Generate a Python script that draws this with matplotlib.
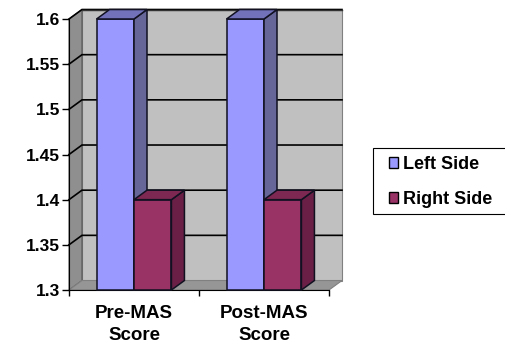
import matplotlib
matplotlib.use('Agg')
import matplotlib.pyplot as plt
from matplotlib.patches import Polygon, Patch, Rectangle

plt.rcParams['font.family'] = ['Liberation Sans', 'DejaVu Sans']

categories = ['Pre-MAS\nScore', 'Post-MAS\nScore']
left_side = [1.6, 1.6]
right_side = [1.4, 1.4]
yticks = [1.3, 1.35, 1.4, 1.45, 1.5, 1.55, 1.6]
ytick_labels = ['1.3', '1.35', '1.4', '1.45', '1.5', '1.55', '1.6']

W, H = 505, 344
fig = plt.figure(figsize=(W / 100, H / 100), dpi=100)
# front plane of the fake 3d box, in pixels: x 69-329, y 19-290
ax = fig.add_axes([69 / W, 1 - 290 / H, 260 / W, 271 / H])
ax.set_xlim(0, 2)
ax.set_ylim(1.3, 1.6)

# depth offset of the box
dx = 0.1
dy = 0.0105
bar_w = 0.288
lw = 1.1
edge = '#111122'


def poly(pts, color, z, ec='#333333', w=0.8):
    ax.add_patch(Polygon(pts, closed=True, facecolor=color, edgecolor=ec,
                         linewidth=w, clip_on=False, zorder=z))


def bar3d(x, val, front, side, top, z):
    poly([(x, 1.3), (x + bar_w, 1.3), (x + bar_w, val), (x, val)], front, z, edge, lw)
    poly([(x + bar_w, 1.3), (x + bar_w + dx, 1.3 + dy), (x + bar_w + dx, val + dy),
          (x + bar_w, val)], side, z, edge, lw)
    poly([(x, val), (x + bar_w, val), (x + bar_w + dx, val + dy), (x + dx, val + dy)],
         top, z, edge, lw)


# walls and floor
poly([(dx, 1.3 + dy), (2 + dx, 1.3 + dy), (2 + dx, 1.6 + dy), (dx, 1.6 + dy)], '#c0c0c0', 1, '#808080')
poly([(0, 1.3), (dx, 1.3 + dy), (dx, 1.6 + dy), (0, 1.6)], '#8f8f8f', 1, '#555555')
poly([(0, 1.3), (2, 1.3), (2 + dx, 1.3 + dy), (dx, 1.3 + dy)], '#969696', 1, '#808080')

# gridlines on both walls
for t in yticks[1:]:
    ax.plot([0, dx, 2 + dx], [t, t + dy, t + dy], color='black', lw=1.2,
            clip_on=False, zorder=2, solid_joinstyle='miter')
ax.plot([dx, 2 + dx], [1.6 + dy, 1.6 + dy], color='#333333', lw=1.0, clip_on=False, zorder=2)

for i in range(len(categories)):
    bar3d(i + 0.5 - bar_w, left_side[i], '#9999ff', '#666699', '#7272bb', 3 + i)
    bar3d(i + 0.5, right_side[i], '#993366', '#6a2046', '#7c2852', 3 + i)

ax.set_yticks(yticks)
ax.set_yticklabels(ytick_labels, fontsize=12.5, fontweight='bold')
ax.set_xticks([0, 1, 2])
ax.set_xticklabels([])
ax.set_xticks([0.5, 1.5], minor=True)
ax.set_xticklabels(categories, minor=True, fontsize=13.5, fontweight='bold', linespacing=1.35)
ax.tick_params(axis='x', which='minor', length=0, pad=11)
ax.tick_params(axis='y', which='major', length=5, width=1, pad=1.5)
ax.tick_params(axis='x', which='major', length=4, width=1)
for s in ['top', 'right']:
    ax.spines[s].set_visible(False)
ax.spines['left'].set_zorder(2.5)
ax.spines['bottom'].set_zorder(2.5)

# legend box drawn apart so its side padding and row spacing can differ
# it runs off the right edge of the picture like in the original
fig.add_artist(Rectangle((373 / W, 1 - 214 / H), 136 / W, 66 / H, transform=fig.transFigure,
                         facecolor='white', edgecolor='black', linewidth=0.8))
handles = [Patch(facecolor='#9999ff', edgecolor='black', linewidth=1),
           Patch(facecolor='#993366', edgecolor='black', linewidth=1)]
leg = fig.legend(handles, ['Left Side', 'Right Side'], loc='upper left',
                 bbox_to_anchor=(389 / W, 1 - 156 / H), borderaxespad=0, borderpad=0,
                 prop={'size': 13, 'weight': 'bold'}, frameon=False,
                 handlelength=0.5, handleheight=0.55,
                 handletextpad=0.25, labelspacing=0.98)

fig.savefig('out.png', dpi=100, facecolor='white')
